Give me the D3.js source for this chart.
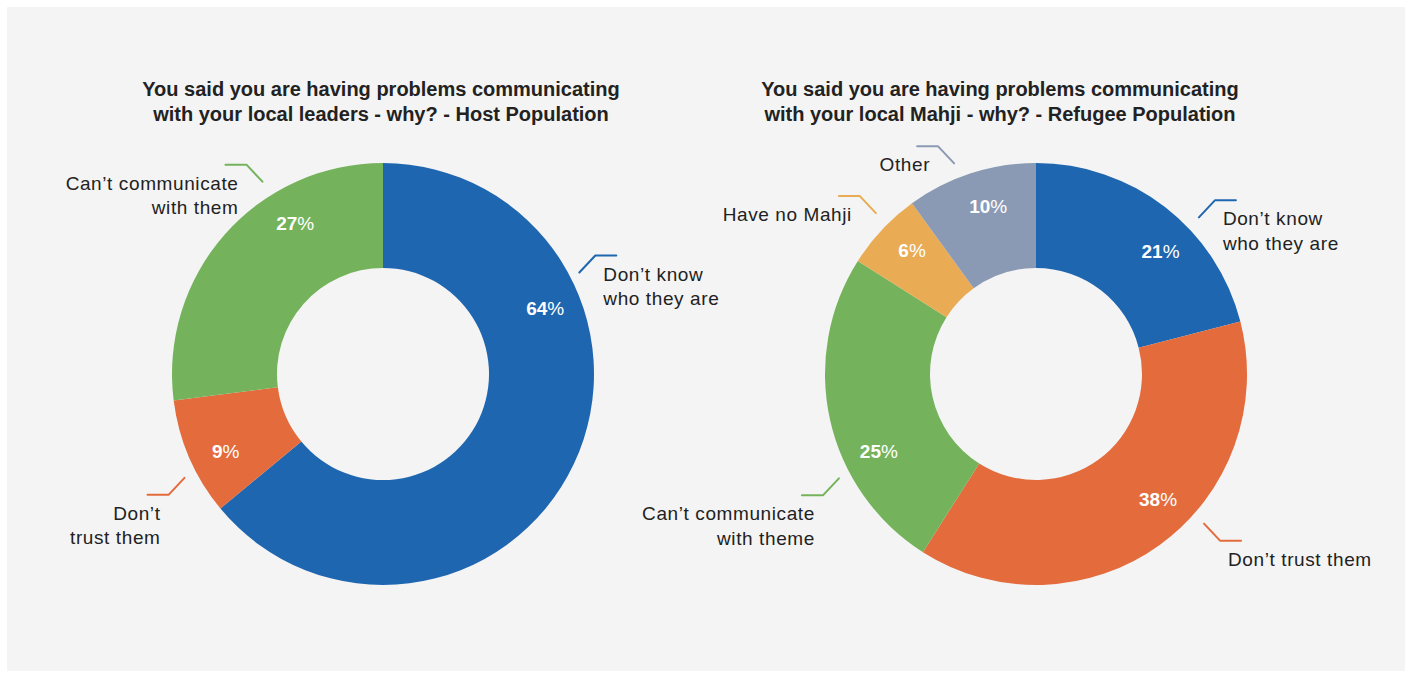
<!DOCTYPE html>
<html>
<head>
<meta charset="utf-8">
<script src="https://cdn.jsdelivr.net/npm/d3@7"></script>
<style>
  html, body { margin: 0; padding: 0; background: #ffffff; }
  svg { display: block; }
  text { font-family: "Liberation Sans", Arial, Helvetica, sans-serif; }
</style>
</head>
<body>
<svg id="chart" width="1409" height="675"></svg>
<script>
// ---- Data ----
const hostTitle = ["You said you are having problems communicating",
                   "with your local leaders - why? - Host Population"];
const hostCategories = [["Don\u2019t know", "who they are"], ["Don\u2019t", "trust them"], ["Can\u2019t communicate", "with them"]];
const hostValues = [64, 9, 27];
const hostColors = ["#1f66b0", "#e36b3c", "#74b35c"];

const refugeeTitle = ["You said you are having problems communicating",
                      "with your local Mahji - why? - Refugee Population"];
const refugeeCategories = [["Don\u2019t know", "who they are"], ["Don\u2019t trust them"], ["Can\u2019t communicate", "with theme"], ["Have no Mahji"], ["Other"]];
const refugeeValues = [21, 38, 25, 6, 10];
const refugeeColors = ["#1f66b0", "#e36b3c", "#74b35c", "#e9ac55", "#8b9ab4"];

// ---- Layout ----
const outerR = 211, innerR = 106;
const charts = [
  { cx: 383, cy: 374, titleX: 381, title: hostTitle, cats: hostCategories, vals: hostValues, colors: hostColors,
    labelPos: [0.295, 0.42, 0.69], leaderPos: [0.272, 0.37, 0.67], leaderR: [221, 224, 227] },
  { cx: 1036, cy: 374, titleX: 1000, title: refugeeTitle, cats: refugeeCategories, vals: refugeeValues, colors: refugeeColors,
    labelPos: [0.60, 0.44, 0.35, 0.58, 0.56], leaderPos: [0.61, 0.41, 0.33, 0.59, 0.41], leaderR: [226, 225, 223, 227, 226] }
];

const svg = d3.select("#chart");

// panel background
svg.append("rect").attr("x", 7).attr("y", 7).attr("width", 1398).attr("height", 664).attr("fill", "#f4f4f4");

const pie = d3.pie().sort(null).value(d => d).startAngle(0).endAngle(2 * Math.PI);
const arc = d3.arc().innerRadius(innerR).outerRadius(outerR);

charts.forEach(c => {
  // title
  const t = svg.append("text")
    .attr("x", c.titleX).attr("y", 96)
    .attr("text-anchor", "middle")
    .attr("font-size", 20).attr("font-weight", "bold").attr("fill", "#222");
  c.title.forEach((line, i) => {
    t.append("tspan").attr("x", c.titleX).attr("dy", i === 0 ? 0 : 24.5).text(line);
  });

  const g = svg.append("g").attr("transform", `translate(${c.cx},${c.cy})`);
  const arcs = pie(c.vals);

  g.selectAll("path.slice").data(arcs).join("path")
    .attr("class", "slice")
    .attr("d", arc)
    .attr("fill", (d, i) => c.colors[i]);

  // percentage inside the ring
  const labelR = 175;
  arcs.forEach((d, i) => {
    const a = d.startAngle + (d.endAngle - d.startAngle) * c.labelPos[i];
    const x = labelR * Math.sin(a), y = -labelR * Math.cos(a);
    const txt = g.append("text")
      .attr("x", x).attr("y", y + 7)
      .attr("text-anchor", "middle")
      .attr("font-size", 19).attr("fill", "#ffffff");
    txt.append("tspan").attr("font-weight", "bold").text(d.data);
    txt.append("tspan").attr("font-weight", "normal").text("%");
  });

  // leader lines and category labels
  const dx = 16, dy = 17, hLen = 21;
  arcs.forEach((d, i) => {
    const a = d.startAngle + (d.endAngle - d.startAngle) * c.leaderPos[i];
    const r = c.leaderR[i];
    const sx = r * Math.sin(a), sy = -r * Math.cos(a);
    const sgnX = Math.sin(a) >= 0 ? 1 : -1;
    const sgnY = Math.cos(a) >= 0 ? -1 : 1;
    const ex = sx + sgnX * dx, ey = sy + sgnY * dy;
    const hx = ex + sgnX * hLen;
    g.append("path")
      .attr("d", d3.line()([[sx, sy], [ex, ey], [hx, ey]]))
      .attr("fill", "none")
      .attr("stroke", c.colors[i])
      .attr("stroke-width", 2)
      .attr("stroke-linejoin", "round")
      .attr("stroke-linecap", "round");

    const tx = ex + sgnX * 8;
    const lab = g.append("text")
      .attr("x", tx).attr("y", ey + 25)
      .attr("text-anchor", sgnX > 0 ? "start" : "end")
      .attr("font-size", 19).attr("letter-spacing", 0.6)
      .attr("fill", "#222");
    c.cats[i].forEach((line, j) => {
      lab.append("tspan").attr("x", tx).attr("dy", j === 0 ? 0 : 24.5).text(line);
    });
  });
});
</script>
</body>
</html>
